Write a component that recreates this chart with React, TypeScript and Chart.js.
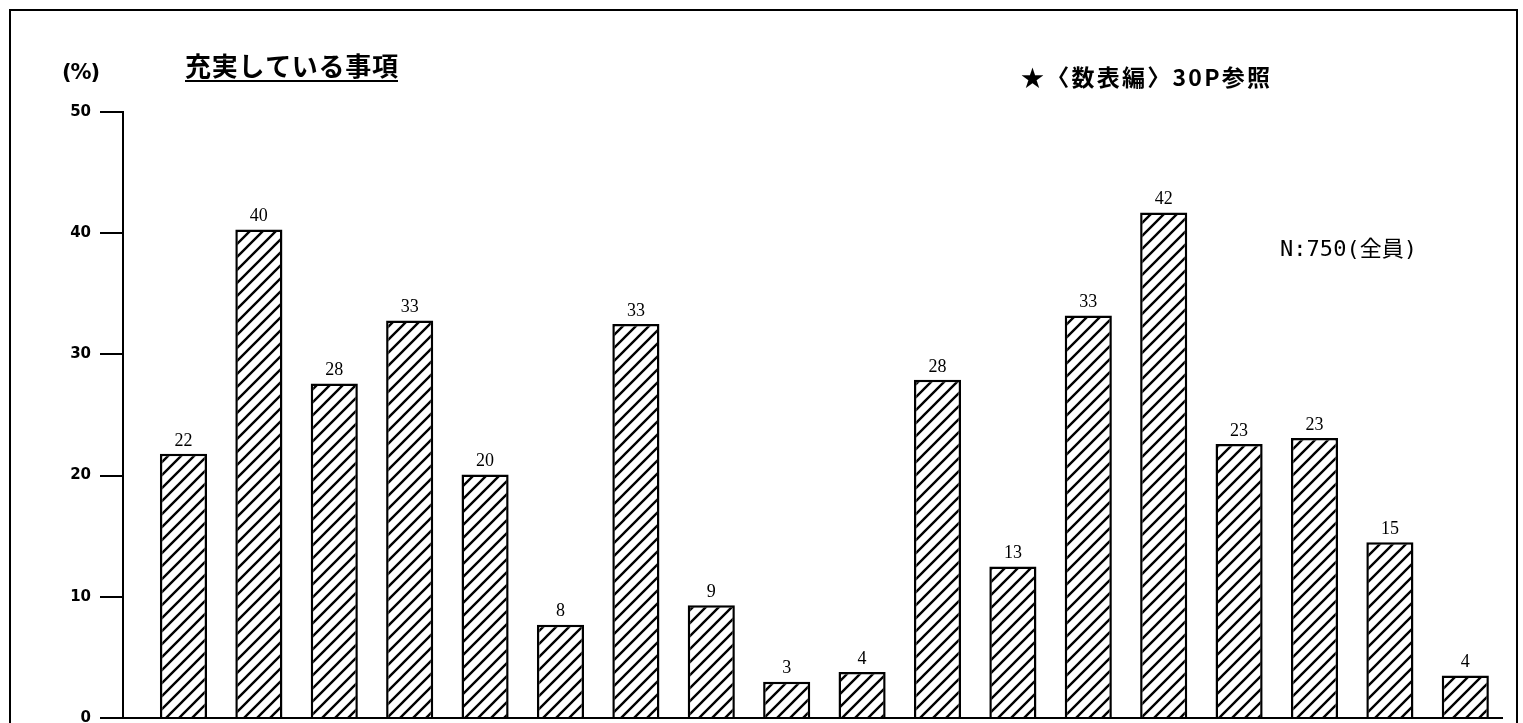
import React, { useEffect, useRef } from 'react';
import { Chart, registerables } from 'chart.js';

Chart.register(...registerables);

// 18 items (category names are not shown in the picture)
const items = [
  '項目1', '項目2', '項目3', '項目4', '項目5', '項目6', '項目7', '項目8', '項目9',
  '項目10', '項目11', '項目12', '項目13', '項目14', '項目15', '項目16', '項目17', '項目18',
];
const values = [21.8, 40.3, 27.6, 32.8, 20.1, 7.7, 32.5, 9.3, 3.0, 3.8, 27.9, 12.5, 33.2, 41.7, 22.6, 23.1, 14.5, 3.5];
const valueLabels = ['22', '40', '28', '33', '20', '8', '33', '9', '3', '4', '28', '13', '33', '42', '23', '23', '15', '4'];
const yMin = 0;
const yMax = 50;
const yStep = 10;

const titleText = '充実している事項';
const unitText = '(%)';
const refText = '★〈数表編〉30P参照';
const nText = 'N:750(全員)';

function makeHatch(): CanvasPattern | string {
  const s = 13;
  const c = document.createElement('canvas');
  c.width = s;
  c.height = s;
  const g = c.getContext('2d');
  if (!g) return '#fff';
  g.fillStyle = '#fff';
  g.fillRect(0, 0, s, s);
  g.strokeStyle = '#000';
  g.lineWidth = 2.4;
  g.beginPath();
  g.moveTo(-2, s + 2);
  g.lineTo(s + 2, -2);
  g.moveTo(-2, 2);
  g.lineTo(2, -2);
  g.moveTo(s - 2, s + 2);
  g.lineTo(s + 2, s - 2);
  g.stroke();
  const p = g.createPattern(c, 'repeat');
  return p || '#fff';
}

function fitText(ctx: CanvasRenderingContext2D, text: string, x: number, y: number, width: number) {
  const chars = Array.from(text).length;
  (ctx as any).letterSpacing = '0px';
  const w = ctx.measureText(text).width;
  const sp = chars > 1 ? (width - w) / (chars - 1) : 0;
  (ctx as any).letterSpacing = sp.toFixed(2) + 'px';
  ctx.fillText(text, x, y);
  (ctx as any).letterSpacing = '0px';
}

const decorPlugin = {
  id: 'decor',
  beforeDraw(chart: any) {
    const ctx = chart.ctx as CanvasRenderingContext2D;
    ctx.save();
    ctx.fillStyle = '#fff';
    ctx.fillRect(0, 0, chart.width, chart.height);
    ctx.restore();
  },
  afterDraw(chart: any) {
    const ctx = chart.ctx as CanvasRenderingContext2D;
    ctx.save();
    // frame
    ctx.strokeStyle = '#000';
    ctx.lineWidth = 2;
    ctx.beginPath();
    ctx.moveTo(10, chart.height);
    ctx.lineTo(10, 10);
    ctx.lineTo(1517, 10);
    ctx.lineTo(1517, chart.height);
    ctx.stroke();

    ctx.fillStyle = '#000';
    ctx.textBaseline = 'middle';
    ctx.textAlign = 'left';

    // unit
    ctx.font = "bold 21px 'DejaVu Sans'";
    fitText(ctx, unitText, 62, 74, 38);

    // title + underline
    ctx.font = "bold 26px 'Noto Sans CJK JP'";
    fitText(ctx, titleText, 185, 66, 213);
    ctx.lineWidth = 2;
    ctx.beginPath();
    ctx.moveTo(185, 81);
    ctx.lineTo(398, 81);
    ctx.stroke();

    // reference note
    ctx.font = "bold 23px 'Noto Sans CJK JP'";
    fitText(ctx, refText, 1021, 77, 249);

    // N
    ctx.font = "22px 'DejaVu Sans Mono', 'Noto Sans CJK JP'";
    fitText(ctx, nText, 1280, 250, 137);

    // value labels
    const meta = chart.getDatasetMeta(0);
    ctx.font = "18px 'Liberation Serif'";
    ctx.textAlign = 'center';
    ctx.textBaseline = 'bottom';
    meta.data.forEach((el: any, i: number) => {
      ctx.fillText(valueLabels[i], el.x, el.y - 4);
    });
    ctx.restore();
  },
};

export default function App() {
  const ref = useRef<HTMLCanvasElement | null>(null);
  useEffect(() => {
    if (!ref.current) return;
    const hatch = makeHatch();
    const chart = new Chart(ref.current, {
      type: 'bar',
      data: {
        datasets: [
          {
            label: titleText,
            data: values.map((v, i) => ({ x: i, y: v })),
            backgroundColor: hatch as any,
            borderColor: '#000',
            borderWidth: 2.5,
            borderSkipped: 'bottom',
            barPercentage: 0.625,
            categoryPercentage: 1,
          },
        ],
      },
      options: {
        responsive: false,
        animation: false,
        layout: { padding: { top: 112, right: 20, bottom: 5, left: 0 } },
        plugins: { legend: { display: false }, tooltip: { enabled: false } },
        scales: {
          x: {
            type: 'linear',
            min: -0.802,
            max: items.length - 0.5,
            offset: false,
            grid: { offset: false },
            display: false,
          },
          y: {
            min: yMin,
            max: yMax,
            ticks: {
              stepSize: yStep,
              color: '#000',
              padding: 9,
              font: { family: 'DejaVu Sans', weight: 'bold', size: 15 },
            },
            grid: {
              color: (c: any) => (c.tick && c.tick.value === 0 ? '#000' : 'rgba(0,0,0,0)'),
              tickColor: '#000',
              tickLength: 23,
              lineWidth: 2,
              drawOnChartArea: true,
            },
            border: { display: true, color: '#000', width: 2 },
            afterFit: (s: any) => {
              s.width = 123;
              s.paddingTop = 0;
              s.paddingBottom = 0;
            },
          },
        },
      },
      plugins: [decorPlugin],
    } as any);
    return () => chart.destroy();
  }, []);
  return (
    <div style={{ position: 'absolute', left: 0, top: 0, width: 1523, height: 723 }}>
      <canvas ref={ref} width={1523} height={723} />
    </div>
  );
}
